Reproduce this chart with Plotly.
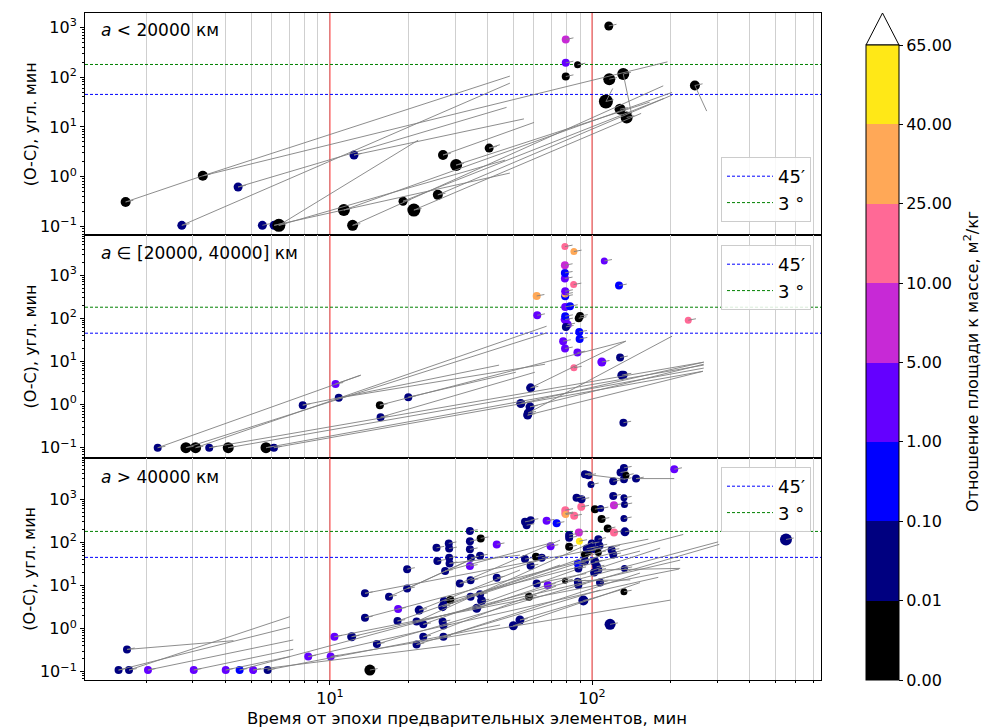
import plotly.graph_objects as go

# ---------------- data ----------------
BIN_LABELS = ["0.00", "0.01", "0.10", "1.00", "5.00", "10.00", "25.00", "40.00", "65.00"]
BIN_COLORS = ["#000000", "#000080", "#0000ff", "#6400ff", "#c729d6",
              "#ff6996", "#ffa857", "#ffe817"]
PANEL_LABELS = ["<i>a</i> < 20000 км", "<i>a</i> ∈ [20000, 40000] км", "<i>a</i> > 40000 км"]
X_TICKS = [10, 100]
X_TICK_TEXT = ["10<sup>1</sup>", "10<sup>2</sup>"]
Y_TICKS = [0.1, 1, 10, 100, 1000]
Y_TICK_TEXT = ["10<sup>−1</sup>", "10<sup>0</sup>", "10<sup>1</sup>", "10<sup>2</sup>", "10<sup>3</sup>"]
TH_45 = 45      # 45 arcmin
TH_3DEG = 180   # 3 degrees in arcmin
RED_T = [10, 100]

# panel 1: a < 20000 km
P1_T = [1.66, 3.27, 4.46, 2.72, 5.52, 6.12, 6.38, 12.35, 11.3, 12.2, 19.0, 20.9, 25.8, 27.0,
        30.3, 40.5, 79.4, 79.4, 88.1, 79.4, 115.9, 116.4, 131.6, 113, 128, 135.6, 247]
P1_OC = [0.31, 1.04, 0.62, 0.105, 0.105, 0.105, 0.105, 2.72, 0.213, 0.105, 0.32, 0.213, 0.43, 2.72,
         1.71, 3.75, 571, 194, 177, 103, 1070, 91, 116, 32.5, 22.7, 15.5, 68]
P1_CLS = [0, 0, 1, 1, 1, 1, 0, 1, 0, 0, 0, 0, 0, 0, 0, 0, 4, 3, 0, 0, 0, 0, 0, 0, 0, 0, 0]
P1_MASS = [10, 10, 9, 9, 9, 9, 13, 9, 12, 11, 9, 13, 10, 10, 12, 9, 8, 8, 7, 8, 9, 12, 12, 14, 11, 12, 10]
P1_SEG_T0 = [1.66, 3.27, 3.27, 4.46, 2.72, 6.38, 6.38, 6.12, 12.2, 11.3, 19.0, 20.9, 25.8, 27.0,
             30.3, 40.5, 113, 131.6, 247, 12.35]
P1_SEG_OC0 = [0.31, 1.04, 1.04, 0.62, 0.105, 0.105, 0.105, 0.105, 0.105, 0.213, 0.32, 0.213, 0.43, 2.72,
              1.71, 3.75, 32.5, 116, 68, 2.72]
P1_SEG_T1 = [3.27, 48.6, 194, 47.2, 48.6, 21.7, 46.6, 48.6, 187, 202, 188, 154, 202, 60.1,
             166, 44.5, 120, 141.9, 274, 55]
P1_SEG_OC1 = [1.04, 105, 203, 24.7, 75.8, 5.4, 2.15, 1.18, 66.9, 49.3, 37.3, 18.7, 43.6, 12.3,
              31.5, 4.38, 59.3, 17.3, 20.8, 14.5]

# panel 2: 20000 <= a <= 40000 km
P2_T = [2.20, 2.82, 3.07, 3.46, 4.09, 5.70, 6.11, 7.87, 10.5, 10.8, 15.5, 15.6, 19.9,
        58.3, 53.5, 58, 57.1, 56.8, 128, 130, 132, 131.8, 109, 85.3, 88, 78.9, 77.6, 89.7, 89.4,
        79, 80.5, 89, 90, 79.5, 79, 79, 82.4, 79, 79, 79, 85.1, 78.8, 78.8, 78.8, 78.8, 85.3,
        111.4, 126.8, 61.5, 61.8, 233]
P2_OC = [0.1, 0.1, 0.1, 0.1, 0.1, 0.1, 0.1, 0.97, 3.0, 1.43, 0.97, 0.51, 1.48,
         2.44, 1.06, 0.885, 0.64, 0.57, 12.3, 4.8, 4.9, 0.38, 9.7, 7.1, 16, 19.9, 29.4, 33.2, 48.2,
         93, 71, 100, 112, 63, 111, 183, 190, 323, 363, 422, 602, 830, 1120, 1690, 4570, 3500,
         2120, 571, 328, 117, 90]
P2_CLS = [1, 0, 0, 1, 0, 0, 1, 1, 3, 1, 0, 1, 1,
          1, 1, 1, 1, 1, 1, 1, 1, 1, 3, 5, 3, 3, 3, 2, 2,
          3, 3, 0, 0, 1, 2, 3, 2, 2, 6, 3, 5, 3, 2, 4, 5, 6,
          3, 2, 6, 3, 5]
P2_MASS = [8, 11, 11, 8, 11, 11, 8, 8, 8, 8, 8, 8, 8,
           9, 9, 9, 9, 9, 8, 9, 8, 8, 9, 7, 8, 8, 8, 8, 8,
           9, 9, 8, 8, 8, 8, 8, 8, 8, 7, 8, 7, 8, 8, 8, 7, 7,
           7, 8, 8, 8, 7]
P2_SEG_T0 = [2.20, 2.82, 3.07, 3.46, 4.09, 5.70, 6.11, 7.87, 10.5, 10.8, 15.5, 15.6, 19.9,
             58.3, 57.1, 56.8, 58, 53.5]
P2_SEG_OC0 = [0.1, 0.1, 0.1, 0.1, 0.1, 0.1, 0.1, 0.97, 3.0, 1.43, 0.97, 0.51, 1.48,
              2.44, 0.64, 0.57, 0.885, 1.06]
P2_SEG_T1 = [13.1, 67.1, 67.1, 267, 267, 267, 265, 44.2, 13.1, 66.2, 134.6, 60.5, 51.2,
             134.6, 202, 265, 267, 267]
P2_SEG_OC1 = [4.79, 45.7, 65.3, 9.6, 8.2, 7.0, 5.9, 8.2, 4.79, 8.6, 29.4, 5.6, 5.6,
              29.4, 38.3, 5.9, 8.6, 9.6]

# panel 3: a > 40000 km
P3_T = [1.68, 1.56, 1.71, 2.02, 3.02, 4.0, 4.52, 5.09, 5.78, 8.26, 10.06, 10.4, 12.1, 13.6, 13.6,
        15.1, 14.2,
        16.8, 18.2, 18.1, 19.7, 19.7, 21.4, 21.9, 21.4, 22.7, 22.7, 25.5, 25.7, 27.1, 26.9, 27.1,
        27.5, 26.9, 27.2, 28.8, 28.4, 28.5, 28.5, 28.6, 31.3, 34.2, 34.2, 34.2, 34.5, 34.2, 34.4,
        34.4, 37.6, 37.4, 37.4, 37.9, 36.3, 43.3, 43.3, 55.5, 58.3, 56.3, 67.1, 73.3, 55.5, 61.1,
        64.3, 58.3, 61.5, 67.8, 57.5, 50.1, 53.1, 69.5, 79.1, 79.1, 85.5, 91, 79.4, 87.3, 91.2,
        94, 96.8, 99.1, 102.6, 107.9, 108.8, 114.8, 121.3, 121.3, 120.5, 120.5, 128.5, 132.4,
        132.4, 134.8, 147.3, 206, 132.4, 133, 132.4, 133.6, 133, 132.4, 550, 117.2, 92.7, 88.7,
        88.3, 78.9, 89.3, 88.7, 88.3, 81.8, 81.8, 89.1, 81.8, 89.5, 94, 96.8, 94, 99.8, 98.9,
        101.3, 105.7, 106.8, 105.7, 102.6, 104.2, 105.7, 101.9, 107.3, 118.8, 120.5, 95.5]
P3_OC = [0.33, 0.11, 0.11, 0.11, 0.11, 0.11, 0.11, 0.11, 0.11, 0.225, 0.225, 0.65, 0.65, 6.6, 1.8,
         0.44, 0.11,
         5.5, 2.86, 1.5, 24, 8.5, 0.43, 2.7, 1.46, 1.26, 0.65, 75, 37, 0.65, 1.46, 1.18,
         21.7, 3.24, 4.4, 4.6, 95, 72, 44, 32.6, 11.2, 183, 107, 69, 44, 28.3, 13.2,
         5.5, 124, 49, 6.25, 4.46, 2.96, 90, 15.2, 300, 328, 251, 316, 280, 41, 46.4,
         44, 28.8, 11.2, 10.3, 5.5, 1.17, 1.59, 82, 560, 468, 414, 669, 444, 1080, 1004,
         3810, 3610, 2200, 590, 611, 347, 210, 170, 729, 1200, 2620, 4170, 5350,
         2920, 3610, 3020, 4980, 1080, 757, 359, 176, 25, 7.2, 117, 1.26, 4.5, 10.3,
         12.3, 12.9, 29.9, 25, 32.6, 148, 128, 170, 79, 107, 52.6, 62.8, 36.9, 95, 75,
         70, 119, 83.6, 58.6, 35.6, 27.3, 22.9, 20.2, 11.8, 66.4, 52.6, 72]
P3_CLS = [1, 1, 1, 3, 3, 3, 2, 3, 1, 3, 3, 3, 1, 1, 1,
          1, 0,
          1, 3, 1, 1, 1, 1, 1, 1, 1, 1, 1, 1, 1, 1, 1,
          1, 1, 1, 0, 1, 1, 1, 1, 1, 1, 1, 1, 1, 3, 1,
          1, 0, 1, 1, 1, 1, 3, 1, 1, 1, 1, 3, 2, 1, 0,
          1, 1, 1, 3, 0, 1, 1, 3, 5, 5, 5, 5, 6, 1, 1,
          1, 1, 1, 0, 1, 0, 0, 5, 4, 1, 1, 1, 1,
          1, 0, 1, 3, 1, 1, 1, 1, 1, 0, 1, 1, 1, 1,
          1, 0, 1, 1, 2, 1, 1, 4, 0, 7, 0, 0, 1, 1, 1,
          1, 1, 1, 0, 1, 1, 1, 1, 1, 1, 1, 1]
P3_MASS = [8, 8, 8, 8, 8, 8, 8, 8, 8, 8, 8, 8, 9, 8, 8,
           8, 11,
           8, 8, 8, 8, 8, 8, 9, 8, 8, 8, 8, 8, 8, 8, 8,
           8, 9, 8, 8, 8, 8, 8, 8, 8, 8, 8, 8, 8, 8, 8,
           8, 8, 8, 8, 9, 9, 8, 8, 8, 8, 8, 8, 8, 8, 8,
           8, 8, 8, 8, 8, 9, 9, 8, 8, 8, 8, 8, 7, 8, 8,
           8, 8, 7, 8, 7, 8, 8, 8, 8, 8, 8, 8, 8,
           8, 7, 8, 8, 7, 7, 7, 9, 7, 7, 12, 11, 10, 8,
           8, 6, 8, 8, 8, 8, 8, 8, 8, 7, 8, 8, 8, 8, 8,
           8, 8, 8, 7, 9, 9, 8, 8, 8, 8, 8, 8]
P3_SEG_T0 = [1.68, 1.56, 1.71, 2.02, 3.02, 4.0, 5.09, 4.52, 5.78, 8.26, 10.06, 10.4, 12.1, 13.6,
             13.6, 15.1, 18.1, 21.4, 22.7, 27.1, 16.8, 21.9, 19.7, 26.9, 28.8, 31.3, 36.3, 37.4,
             50.1, 53.1, 94, 147.3, 22.7, 34.4, 61.5, 78.9, 105.7, 21.4, 27.5, 28.6]
P3_SEG_OC0 = [0.33, 0.11, 0.11, 0.11, 0.11, 0.11, 0.11, 0.11, 0.11, 0.225, 0.225, 0.65, 0.65, 1.8,
              6.6, 0.44, 1.5, 0.43, 0.65, 0.65, 5.5, 2.7, 8.5, 3.24, 4.6, 11.2, 2.96, 6.25,
              1.17, 1.59, 3810, 3020, 1.26, 13.2, 11.2, 12.9, 22.9, 1.46, 21.7, 32.6]
P3_SEG_T1 = [4.28, 7.03, 7.03, 7.24, 7.24, 7.03, 31.3, 303, 44.6, 179, 199.5, 215, 217, 223,
             164, 306, 75.5, 107.4, 72.9, 152.5, 34.2, 53.1, 36.7, 128, 152.5, 75.5, 182, 107.4,
             152.5, 128, 133.6, 206, 86.1, 63.4, 95, 140, 217, 101, 71.1, 53.1]
P3_SEG_OC1 = [0.527, 1.08, 1.9, 0.547, 0.333, 0.225, 0.435, 103, 1.22, 15.5, 4.6, 24.1, 38.9, 153,
              119, 90, 29.9, 7.87, 9.7, 19.5, 38.8, 22.9, 48.2, 87, 63, 113, 73.8, 48.2,
              11.7, 7.87, 2920, 3020, 22.9, 38.9, 19, 13.5, 25, 103, 100, 50.8]

PANELS = [
    dict(t=P1_T, oc=P1_OC, cls=P1_CLS, mass=P1_MASS,
         s=(P1_SEG_T0, P1_SEG_OC0, P1_SEG_T1, P1_SEG_OC1)),
    dict(t=P2_T, oc=P2_OC, cls=P2_CLS, mass=P2_MASS,
         s=(P2_SEG_T0, P2_SEG_OC0, P2_SEG_T1, P2_SEG_OC1)),
    dict(t=P3_T, oc=P3_OC, cls=P3_CLS, mass=P3_MASS,
         s=(P3_SEG_T0, P3_SEG_OC0, P3_SEG_T1, P3_SEG_OC1)),
]

# ---------------- layout constants ----------------
X_LOG_RANGE = [0.065, 2.874]
Y_LOG_RANGES = [[-1.18, 3.29], [-1.23, 3.92], [-1.19, 3.965]]
DOMAINS = [[2 / 3, 1], [1 / 3, 2 / 3], [0, 1 / 3]]
STUB_X, STUB_Y = 1.07, 1.08
FONT = "DejaVu Sans"
FS = 16
W, H = 983, 728
ML, MR, MT, MB = 85, 162, 13, 48
PW = W - ML - MR
PH = H - MT - MB


def px_x(px):
    return (px - ML) / PW


def px_y(py):
    return (H - MB - py) / PH


minor_x = [d * m for d in (1, 10, 100) for m in range(2, 10)]
minor_y = [d * m for d in (0.01, 0.1, 1, 10, 100, 1000) for m in range(2, 10)]

fig = go.Figure()
xmin, xmax = 10 ** X_LOG_RANGE[0], 10 ** X_LOG_RANGE[1]

for i, p in enumerate(PANELS):
    sfx = "" if i == 0 else str(i + 1)
    xa, ya, lg = "x" + sfx, "y" + sfx, "legend" + sfx
    ymin, ymax = 10 ** Y_LOG_RANGES[i][0], 10 ** Y_LOG_RANGES[i][1]
    rx, ry = [], []
    for rt in RED_T:
        rx += [rt, rt, None]
        ry += [ymin, ymax, None]
    fig.add_trace(go.Scatter(x=rx, y=ry, mode="lines", showlegend=False,
                             line=dict(color="rgba(255,0,0,0.75)", width=1),
                             xaxis=xa, yaxis=ya, hoverinfo="skip"))
    fig.add_trace(go.Scatter(x=[xmin, xmax], y=[TH_45, TH_45], mode="lines", name="45′",
                             line=dict(color="#0000ff", width=1, dash="3px,2px"),
                             legend=lg, xaxis=xa, yaxis=ya, hoverinfo="skip"))
    fig.add_trace(go.Scatter(x=[xmin, xmax], y=[TH_3DEG, TH_3DEG], mode="lines", name="3 °",
                             line=dict(color="#008000", width=1, dash="3px,2px"),
                             legend=lg, xaxis=xa, yaxis=ya, hoverinfo="skip"))
    fig.add_trace(go.Scatter(x=p["t"], y=p["oc"], mode="markers", showlegend=False,
                             marker=dict(color=[c + 0.5 for c in p["cls"]], coloraxis="coloraxis",
                                         size=p["mass"], line=dict(width=0), opacity=1),
                             xaxis=xa, yaxis=ya))
    xs, ys = [], []
    for a, b, c, d in zip(*p["s"]):
        xs += [a, c, None]
        ys += [b, d, None]
    for a, b in zip(p["t"], p["oc"]):
        xs += [a, a * STUB_X, None]
        ys += [b, b * STUB_Y, None]
    fig.add_trace(go.Scatter(x=xs, y=ys, mode="lines", showlegend=False,
                             line=dict(color="#808080", width=0.9),
                             xaxis=xa, yaxis=ya, hoverinfo="skip"))

    axis_common = dict(showline=True, linecolor="black", linewidth=1, mirror=True, automargin=False,
                       ticks="outside", tickcolor="black", ticklen=4, tickwidth=1)
    fig.layout["xaxis" + sfx] = dict(
        type="log", range=X_LOG_RANGE, domain=[0, 1], anchor=ya,
        tickvals=X_TICKS, ticktext=X_TICK_TEXT, showticklabels=(i == 2),
        showgrid=True, gridcolor="#cfcfcf", gridwidth=1, zeroline=False,
        minor=dict(tickvals=minor_x, ticks="outside", ticklen=2, tickcolor="black",
                   showgrid=True, gridcolor="#cfcfcf", gridwidth=1),
        tickfont=dict(size=FS), **axis_common)
    fig.layout["yaxis" + sfx] = dict(
        type="log", range=Y_LOG_RANGES[i], domain=DOMAINS[i], anchor=xa,
        tickvals=Y_TICKS, ticktext=Y_TICK_TEXT, showgrid=False, zeroline=False,
        minor=dict(tickvals=minor_y, ticks="outside", ticklen=2, tickcolor="black", showgrid=False),
        tickfont=dict(size=FS), **axis_common)

    dom = DOMAINS[i]
    fig.add_annotation(text="(O-C), угл. мин", textangle=-90, xref="paper", yref="paper",
                       x=px_x(30), y=(dom[0] + dom[1]) / 2, showarrow=False,
                       xanchor="center", yanchor="middle", font=dict(size=FS))
    top_off = [17, 18, 19][i]
    fig.add_annotation(text=PANEL_LABELS[i], xref="paper", yref="paper",
                       x=px_x(99), y=dom[1] - top_off / PH, showarrow=False,
                       xanchor="left", yanchor="middle", font=dict(size=FS + 1))

legend_common = dict(font=dict(size=FS + 2), bgcolor="rgba(255,255,255,0.85)", bordercolor="#cccccc",
                     borderwidth=1, xanchor="right", itemwidth=46, tracegroupgap=0)
fig.update_layout(
    legend=dict(x=px_x(811), y=px_y(222), yanchor="bottom", **legend_common),
    legend2=dict(x=px_x(811), y=px_y(245), yanchor="top", **legend_common),
    legend3=dict(x=px_x(811), y=px_y(467), yanchor="top", **legend_common),
)

# colour bar
scale = []
for k, c in enumerate(BIN_COLORS):
    scale += [[k / len(BIN_COLORS), c], [(k + 1) / len(BIN_COLORS), c]]
cb_top = px_y(45)
fig.update_layout(coloraxis=dict(
    colorscale=scale, cmin=0, cmax=len(BIN_COLORS),
    colorbar=dict(x=px_x(866), xanchor="left", y=0, yanchor="bottom", len=cb_top, lenmode="fraction",
                  thickness=33, thicknessmode="pixels", xpad=0, ypad=0,
                  outlinewidth=1, outlinecolor="black",
                  tickvals=list(range(len(BIN_LABELS))), ticktext=BIN_LABELS,
                  ticks="outside", ticklen=4, tickcolor="black", tickfont=dict(size=FS))))
x0c, x1c = px_x(866), px_x(899)
for k in range(1, len(BIN_COLORS)):
    yk = cb_top * k / len(BIN_COLORS)
    fig.add_shape(type="line", xref="paper", yref="paper", x0=x0c, x1=x1c, y0=yk, y1=yk,
                  line=dict(color="black", width=0.8))
fig.add_shape(type="path", xref="paper", yref="paper",
              path=f"M {x0c},{cb_top} L {(x0c + x1c) / 2},{px_y(13)} L {x1c},{cb_top} Z",
              fillcolor="white", line=dict(color="black", width=1))
fig.add_annotation(text="Отношение площади к массе, м<sup>2</sup>/кг", textangle=-90,
                   xref="paper", yref="paper", x=px_x(971), y=px_y(362), showarrow=False,
                   xanchor="center", yanchor="middle", font=dict(size=FS))
fig.add_annotation(text="Время от эпохи предварительных элементов, мин", xref="paper", yref="paper",
                   x=px_x(467), y=px_y(718), showarrow=False, xanchor="center", yanchor="middle",
                   font=dict(size=FS + 0.5))

fig.update_layout(width=W, height=H, margin=dict(l=ML, r=MR, t=MT, b=MB, autoexpand=False),
                  paper_bgcolor="white", plot_bgcolor="white",
                  font=dict(family=FONT, size=FS, color="black"), hovermode=False)

fig.write_html("out.html", config={"displayModeBar": False},
               post_script="document.body.style.margin='0';")
